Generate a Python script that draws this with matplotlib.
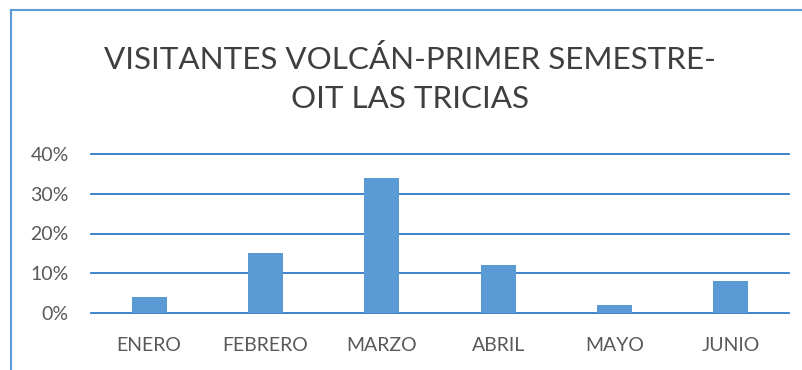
import matplotlib
matplotlib.use("Agg")
import matplotlib.pyplot as plt
from matplotlib.lines import Line2D
from matplotlib.ticker import PercentFormatter

months = ["ENERO", "FEBRERO", "MARZO", "ABRIL", "MAYO", "JUNIO"]
visitors_share = [0.04, 0.15, 0.34, 0.12, 0.02, 0.08]
y_ticks = [0.0, 0.10, 0.20, 0.30, 0.40]
title = "VISITANTES VOLCÁN-PRIMER SEMESTRE-\nOIT LAS TRICIAS"

plt.rcParams["font.family"] = ["Lato", "DejaVu Sans"]

fig = plt.figure(figsize=(8.03, 3.70), dpi=100)
ax = fig.add_axes([91 / 803, 57 / 370, 698 / 803, 159 / 370])

bar_color = "#5B9BD5"
grid_color = "#2F78C8"
tick_color = "#595959"

ax.bar(range(len(months)), visitors_share, width=0.30, color=bar_color,
       zorder=3)

ax.set_xlim(-0.5, len(months) - 0.5)
ax.set_ylim(0, 0.40)
ax.set_yticks(y_ticks)
ax.yaxis.set_major_formatter(PercentFormatter(1.0, decimals=0))
ax.set_xticks(range(len(months)))
ax.set_xticklabels(months)

for y in y_ticks:
    ax.axhline(y, color=grid_color, lw=1.3, zorder=1, clip_on=False)

for s in ax.spines.values():
    s.set_visible(False)
ax.tick_params(axis="both", length=0, colors=tick_color, labelsize=14)
ax.tick_params(axis="x", pad=17)
ax.tick_params(axis="y", pad=16)

fig.text(410 / 803, 1 - 79 / 370, title, ha="center", va="center",
         fontsize=22.6, color="#3F3F3F", linespacing=1.47)

# chart frame (top and left edges)
frame_color = "#5B9BD5"
fig.add_artist(Line2D([11 / 803, 1.0], [1 - 10 / 370, 1 - 10 / 370],
                      transform=fig.transFigure, color=frame_color, lw=1.5))
fig.add_artist(Line2D([11 / 803, 11 / 803], [0.0, 1 - 10 / 370],
                      transform=fig.transFigure, color=frame_color, lw=1.5))

fig.savefig("out.png", dpi=100, facecolor="white")
